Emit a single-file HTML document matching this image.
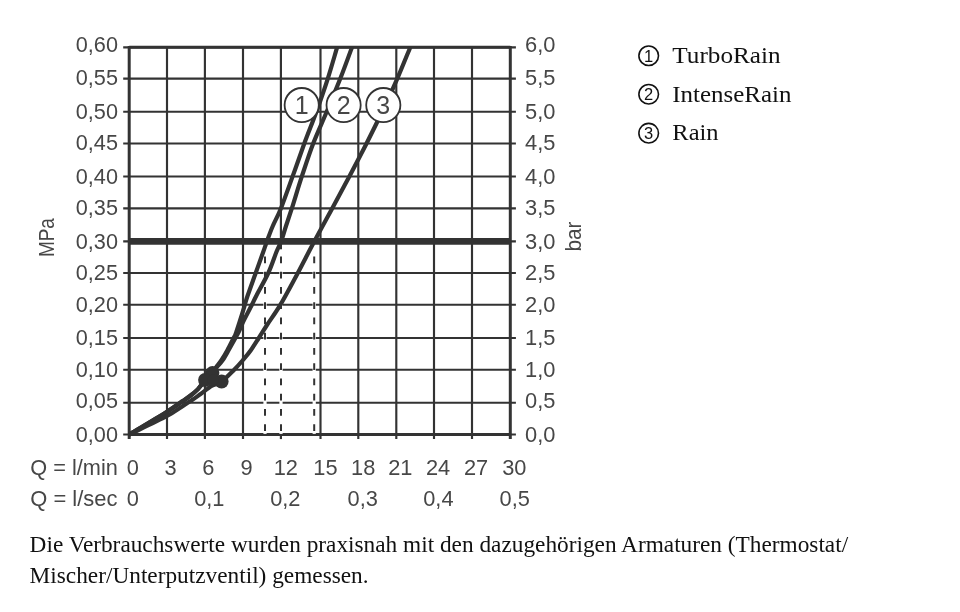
<!DOCTYPE html>
<html lang="de"><head><meta charset="utf-8"><title>Durchflussdiagramm</title>
<style>html,body{margin:0;padding:0;background:#fff}body{width:960px;height:612px;overflow:hidden;position:relative}
svg{position:absolute;left:0;top:0;display:block}
.s{font-family:"Liberation Sans",sans-serif;font-size:21.8px;fill:#474747}
.t{font-family:"Liberation Serif",serif;fill:#111}
</style></head><body>
<svg width="960" height="612" viewBox="0 0 960 612">
<rect width="960" height="612" fill="#fff"/>
<g stroke="#333" stroke-width="2.15" fill="none">
<line x1="167.0" y1="47.3" x2="167.0" y2="439.1"/>
<line x1="204.9" y1="47.3" x2="204.9" y2="439.1"/>
<line x1="243.0" y1="47.3" x2="243.0" y2="439.1"/>
<line x1="280.9" y1="47.3" x2="280.9" y2="250"/>
<line x1="280.9" y1="434.5" x2="280.9" y2="439.1"/>
<line x1="320.5" y1="47.3" x2="320.5" y2="439.1"/>
<line x1="358.3" y1="47.3" x2="358.3" y2="439.1"/>
<line x1="396.3" y1="47.3" x2="396.3" y2="439.1"/>
<line x1="434.0" y1="47.3" x2="434.0" y2="439.1"/>
<line x1="472.0" y1="47.3" x2="472.0" y2="439.1"/>
<line x1="123.2" y1="47.3" x2="515.9" y2="47.3"/>
<line x1="123.2" y1="78.6" x2="515.9" y2="78.6"/>
<line x1="123.2" y1="111.7" x2="515.9" y2="111.7"/>
<line x1="123.2" y1="143.5" x2="515.9" y2="143.5"/>
<line x1="123.2" y1="176.5" x2="515.9" y2="176.5"/>
<line x1="123.2" y1="208.3" x2="515.9" y2="208.3"/>
<line x1="123.2" y1="241.3" x2="515.9" y2="241.3"/>
<line x1="123.2" y1="273.0" x2="515.9" y2="273.0"/>
<line x1="123.2" y1="304.7" x2="515.9" y2="304.7"/>
<line x1="123.2" y1="338.0" x2="515.9" y2="338.0"/>
<line x1="123.2" y1="369.7" x2="515.9" y2="369.7"/>
<line x1="123.2" y1="402.7" x2="515.9" y2="402.7"/>
<line x1="123.2" y1="434.5" x2="515.9" y2="434.5"/>
</g>
<g stroke="#333" stroke-width="3.0" fill="none">
<line x1="129.2" y1="47.3" x2="510.3" y2="47.3"/>
<line x1="129.2" y1="434.5" x2="510.3" y2="434.5"/>
<line x1="129.2" y1="46.0" x2="129.2" y2="439.1"/>
<line x1="510.3" y1="46.0" x2="510.3" y2="439.1"/>
</g>
<line x1="129.2" y1="241.4" x2="510.3" y2="241.4" stroke="#333" stroke-width="6.6"/>
<g stroke="#fff" stroke-width="3.2" fill="none">
<line x1="265" y1="249.3" x2="265" y2="433.9"/>
<line x1="281" y1="249.3" x2="281" y2="433.9"/>
<line x1="314.2" y1="249.3" x2="314.2" y2="433.9"/>
</g>
<g stroke="#333" stroke-width="2" stroke-dasharray="6.8 8.45" fill="none">
<line x1="265" y1="256.5" x2="265" y2="433.5"/>
<line x1="281" y1="256.5" x2="281" y2="433.5"/>
<line x1="314.2" y1="256.5" x2="314.2" y2="433.5"/>
</g>
<g stroke="#333" stroke-width="4.2" fill="none" stroke-linejoin="round">
<path d="M337.2 47.2 C335.6 52.4 331.2 67.9 327.8 78.6 C324.4 89.3 320.4 100.7 316.5 111.5 C312.6 122.3 308.2 132.8 304.3 143.5 C300.4 154.2 296.7 165.1 292.8 175.9 C288.9 186.7 284.3 199.8 281.0 208.2 C277.7 216.5 275.2 220.5 272.8 226.0 C270.4 231.5 268.5 237.1 266.9 241.4 C265.3 245.7 265.1 246.7 263.2 252.0 C261.3 257.3 258.3 265.7 255.7 273.0 C253.1 280.3 249.3 290.7 247.5 296.0 C245.7 301.3 246.1 300.7 244.9 304.7 C243.7 308.7 241.8 315.1 240.2 320.0 C238.6 324.9 236.7 331.0 235.6 334.0 C234.5 337.0 234.9 335.3 233.6 338.0 C232.2 340.7 229.5 346.3 227.5 350.0 C225.5 353.7 223.5 357.1 221.6 360.0 C219.7 362.9 217.5 365.4 216.0 367.5 C214.5 369.6 214.3 370.7 212.5 372.8 C210.7 374.9 207.4 377.6 205.0 380.3 C202.6 383.0 200.5 386.5 198.0 389.1 C195.5 391.7 192.7 393.9 190.0 396.0 C187.3 398.1 185.7 399.0 181.9 401.6 C178.1 404.2 175.8 406.2 167.0 411.7 C158.2 417.2 135.5 430.7 129.2 434.5"/>
<path d="M352.0 47.2 C350.1 52.4 344.5 67.9 340.3 78.6 C336.1 89.3 331.3 100.7 326.8 111.5 C322.3 122.3 317.3 132.8 313.2 143.5 C309.1 154.2 305.6 165.1 302.0 175.9 C298.4 186.7 294.6 199.8 291.9 208.2 C289.2 216.5 287.8 220.5 286.0 226.0 C284.2 231.5 282.7 237.1 281.1 241.4 C279.5 245.7 278.5 246.7 276.4 252.0 C274.3 257.3 271.7 265.7 268.3 273.0 C264.9 280.3 258.9 290.7 256.2 296.0 C253.5 301.3 253.9 300.7 251.9 304.7 C249.9 308.7 246.1 315.8 244.0 320.0 C241.9 324.2 241.0 327.0 239.6 330.0 C238.2 333.0 237.2 334.7 235.4 338.0 C233.6 341.3 230.8 346.3 228.7 350.0 C226.6 353.7 224.8 357.1 222.8 360.0 C220.8 362.9 218.3 365.4 216.6 367.5 C214.9 369.6 214.4 370.7 212.5 372.8 C210.6 374.9 207.4 377.6 205.0 380.3 C202.6 383.0 200.5 386.5 198.0 389.1 C195.5 391.7 192.7 393.9 190.0 396.0 C187.3 398.1 185.7 399.0 181.9 401.6 C178.1 404.2 175.8 406.2 167.0 411.7 C158.2 417.2 135.5 430.7 129.2 434.5"/>
<path d="M410.3 47.2 C408.1 52.4 402.0 67.9 397.3 78.6 C392.6 89.3 387.5 100.7 382.3 111.5 C377.1 122.3 371.8 133.0 366.4 143.7 C360.9 154.4 355.3 165.2 349.6 175.9 C343.9 186.7 338.2 197.3 332.3 208.2 C326.4 219.1 320.1 230.5 314.4 241.3 C308.6 252.1 303.4 262.5 297.8 273.0 C292.2 283.5 285.7 295.7 280.6 304.4 C275.5 313.1 270.6 319.4 267.0 325.0 C263.4 330.6 261.5 333.8 258.8 338.0 C256.1 342.2 253.6 346.3 251.0 350.0 C248.4 353.7 245.8 356.7 243.0 360.0 C240.2 363.3 237.8 366.1 234.2 369.7 C230.6 373.3 225.4 378.9 221.6 381.6 C217.8 384.3 215.0 383.9 211.5 386.0 C208.0 388.1 203.7 391.8 200.6 394.0 C197.5 396.2 196.1 397.3 192.8 399.5 C189.5 401.7 185.3 404.4 181.0 407.2 C176.7 409.9 175.6 411.4 167.0 416.0 C158.4 420.6 135.5 431.4 129.2 434.5"/>
</g>
<g fill="#333">
<circle cx="212.5" cy="372.8" r="6.9"/>
<circle cx="205" cy="380" r="6.9"/>
<circle cx="221.6" cy="381.6" r="7.0"/>
<circle cx="213" cy="380" r="5.5"/>
</g>
<circle cx="301.7" cy="105.1" r="17.1" fill="#fff" stroke="#333" stroke-width="1.8"/>
<text class="s" x="301.7" y="113.5" text-anchor="middle" style="font-size:25px">1</text>
<circle cx="343.6" cy="105.1" r="17.1" fill="#fff" stroke="#333" stroke-width="1.8"/>
<text class="s" x="343.6" y="113.5" text-anchor="middle" style="font-size:25px">2</text>
<circle cx="383.3" cy="105.1" r="17.1" fill="#fff" stroke="#333" stroke-width="1.8"/>
<text class="s" x="383.3" y="113.5" text-anchor="middle" style="font-size:25px">3</text>
<text class="s" x="118" y="52.0" text-anchor="end" textLength="42.2" lengthAdjust="spacingAndGlyphs">0,60</text>
<text class="s" x="118" y="84.9" text-anchor="end" textLength="42.2" lengthAdjust="spacingAndGlyphs">0,55</text>
<text class="s" x="118" y="118.8" text-anchor="end" textLength="42.2" lengthAdjust="spacingAndGlyphs">0,50</text>
<text class="s" x="118" y="150.3" text-anchor="end" textLength="42.2" lengthAdjust="spacingAndGlyphs">0,45</text>
<text class="s" x="118" y="184.2" text-anchor="end" textLength="42.2" lengthAdjust="spacingAndGlyphs">0,40</text>
<text class="s" x="118" y="215.2" text-anchor="end" textLength="42.2" lengthAdjust="spacingAndGlyphs">0,35</text>
<text class="s" x="118" y="248.8" text-anchor="end" textLength="42.2" lengthAdjust="spacingAndGlyphs">0,30</text>
<text class="s" x="118" y="279.9" text-anchor="end" textLength="42.2" lengthAdjust="spacingAndGlyphs">0,25</text>
<text class="s" x="118" y="312.2" text-anchor="end" textLength="42.2" lengthAdjust="spacingAndGlyphs">0,20</text>
<text class="s" x="118" y="345.0" text-anchor="end" textLength="42.2" lengthAdjust="spacingAndGlyphs">0,15</text>
<text class="s" x="118" y="376.8" text-anchor="end" textLength="42.2" lengthAdjust="spacingAndGlyphs">0,10</text>
<text class="s" x="118" y="408.2" text-anchor="end" textLength="42.2" lengthAdjust="spacingAndGlyphs">0,05</text>
<text class="s" x="118" y="441.5" text-anchor="end" textLength="42.2" lengthAdjust="spacingAndGlyphs">0,00</text>
<text class="s" x="525" y="52.0" textLength="30.4" lengthAdjust="spacingAndGlyphs">6,0</text>
<text class="s" x="525" y="84.9" textLength="30.4" lengthAdjust="spacingAndGlyphs">5,5</text>
<text class="s" x="525" y="118.8" textLength="30.4" lengthAdjust="spacingAndGlyphs">5,0</text>
<text class="s" x="525" y="150.3" textLength="30.4" lengthAdjust="spacingAndGlyphs">4,5</text>
<text class="s" x="525" y="184.2" textLength="30.4" lengthAdjust="spacingAndGlyphs">4,0</text>
<text class="s" x="525" y="215.2" textLength="30.4" lengthAdjust="spacingAndGlyphs">3,5</text>
<text class="s" x="525" y="248.8" textLength="30.4" lengthAdjust="spacingAndGlyphs">3,0</text>
<text class="s" x="525" y="279.9" textLength="30.4" lengthAdjust="spacingAndGlyphs">2,5</text>
<text class="s" x="525" y="312.2" textLength="30.4" lengthAdjust="spacingAndGlyphs">2,0</text>
<text class="s" x="525" y="345.0" textLength="30.4" lengthAdjust="spacingAndGlyphs">1,5</text>
<text class="s" x="525" y="376.8" textLength="30.4" lengthAdjust="spacingAndGlyphs">1,0</text>
<text class="s" x="525" y="408.2" textLength="30.4" lengthAdjust="spacingAndGlyphs">0,5</text>
<text class="s" x="525" y="441.5" textLength="30.4" lengthAdjust="spacingAndGlyphs">0,0</text>
<text class="s" transform="translate(54.2,257.1) rotate(-90)" textLength="39" lengthAdjust="spacingAndGlyphs">MPa</text>
<text class="s" transform="translate(581.2,251.6) rotate(-90)" textLength="30" lengthAdjust="spacingAndGlyphs">bar</text>
<text class="s" x="30.3" y="474.6" textLength="87.6" lengthAdjust="spacingAndGlyphs">Q = l/min</text>
<text class="s" x="30.3" y="505.6" textLength="87.2" lengthAdjust="spacingAndGlyphs">Q = l/sec</text>
<text class="s" x="132.7" y="474.6" text-anchor="middle">0</text>
<text class="s" x="170.5" y="474.6" text-anchor="middle">3</text>
<text class="s" x="208.4" y="474.6" text-anchor="middle">6</text>
<text class="s" x="246.5" y="474.6" text-anchor="middle">9</text>
<text class="s" x="285.8" y="474.6" text-anchor="middle">12</text>
<text class="s" x="325.4" y="474.6" text-anchor="middle">15</text>
<text class="s" x="363.2" y="474.6" text-anchor="middle">18</text>
<text class="s" x="400.3" y="474.6" text-anchor="middle">21</text>
<text class="s" x="438.0" y="474.6" text-anchor="middle">24</text>
<text class="s" x="476.0" y="474.6" text-anchor="middle">27</text>
<text class="s" x="514.3" y="474.6" text-anchor="middle">30</text>
<text class="s" x="132.7" y="505.6" text-anchor="middle">0</text>
<text class="s" x="209.3" y="505.6" text-anchor="middle">0,1</text>
<text class="s" x="285.3" y="505.6" text-anchor="middle">0,2</text>
<text class="s" x="362.7" y="505.6" text-anchor="middle">0,3</text>
<text class="s" x="438.4" y="505.6" text-anchor="middle">0,4</text>
<text class="s" x="514.7" y="505.6" text-anchor="middle">0,5</text>
<circle cx="648.7" cy="55.75" r="9.8" fill="none" stroke="#111" stroke-width="1.6"/>
<text x="648.7" y="61.6" text-anchor="middle" style="font-family:'Liberation Sans',sans-serif;font-size:16.5px;fill:#111">1</text>
<text class="t" x="672.3" y="62.7" style="font-size:23.3px" textLength="108.3" lengthAdjust="spacingAndGlyphs">TurboRain</text>
<circle cx="648.7" cy="94.25" r="9.8" fill="none" stroke="#111" stroke-width="1.6"/>
<text x="648.7" y="100.2" text-anchor="middle" style="font-family:'Liberation Sans',sans-serif;font-size:16.5px;fill:#111">2</text>
<text class="t" x="672.3" y="101.8" style="font-size:23.3px" textLength="119.1" lengthAdjust="spacingAndGlyphs">IntenseRain</text>
<circle cx="648.7" cy="133.15" r="9.8" fill="none" stroke="#111" stroke-width="1.6"/>
<text x="648.7" y="139.1" text-anchor="middle" style="font-family:'Liberation Sans',sans-serif;font-size:16.5px;fill:#111">3</text>
<text class="t" x="672.3" y="140.3" style="font-size:23.3px" textLength="46.3" lengthAdjust="spacingAndGlyphs">Rain</text>
<text class="t" x="29.6" y="551.75" style="font-size:23.3px">Die Verbrauchswerte wurden praxisnah mit den dazugehörigen Armaturen (Thermostat/</text>
<text class="t" x="29.6" y="582.75" style="font-size:23.3px">Mischer/Unterputzventil) gemessen.</text>
</svg></body></html>
